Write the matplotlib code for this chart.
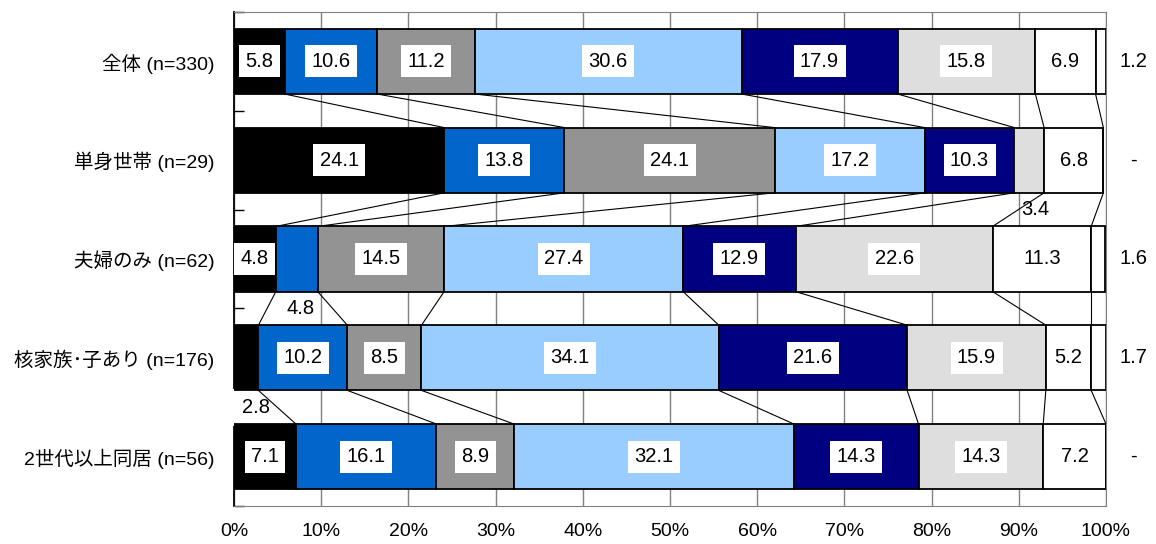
import numpy as np
import matplotlib
matplotlib.use("Agg")
import matplotlib.pyplot as plt

plt.rcParams['font.family'] = ['Liberation Sans', 'Noto Sans CJK JP', 'DejaVu Sans']

# 世帯構成別の回答割合（%）
categories = ['全体 (n=330)', '単身世帯 (n=29)', '夫婦のみ (n=62)',
              '核家族･子あり (n=176)', '2世代以上同居 (n=56)']
zentai = [5.8, 10.6, 11.2, 30.6, 17.9, 15.8, 6.9, 1.2]
tanshin = [24.1, 13.8, 24.1, 17.2, 10.3, 3.4, 6.8, 0.0]
fufu = [4.8, 4.8, 14.5, 27.4, 12.9, 22.6, 11.3, 1.6]
kakukazoku = [2.8, 10.2, 8.5, 34.1, 21.6, 15.9, 5.2, 1.7]
nisedai = [7.1, 16.1, 8.9, 32.1, 14.3, 14.3, 7.2, 0.0]
xticks = [0, 10, 20, 30, 40, 50, 60, 70, 80, 90, 100]

# 帯の下に数値を出す小さい区分 (行, 区分) と横方向のずらし量
below = {(1, 5): 0.7, (2, 1): 0.4, (3, 0): 1.1}

colors = ['#000000', '#0066cc', '#939393', '#99ccff', '#000080',
          '#dedede', '#ffffff', '#ffffff']

data = np.array([zentai, tanshin, fufu, kakukazoku, nisedai])
cum = np.hstack([np.zeros((len(data), 1)), np.cumsum(data, axis=1)])
h = 0.66

fig = plt.figure(figsize=(11.56, 5.44), dpi=100)
ax = fig.add_axes([234 / 1156, 38 / 544, 872 / 1156, 494 / 544])

for j in range(data.shape[1]):
    ax.barh(range(len(data)), data[:, j], left=cum[:, j], height=h,
            color=colors[j], edgecolor='black', linewidth=1.3, zorder=3)

# 区分の境界をつなぐ線
for i in range(len(data) - 1):
    for k in range(1, data.shape[1]):
        if cum[i, k] >= 99.95 and cum[i + 1, k] >= 99.95:
            continue
        ax.plot([cum[i, k], cum[i + 1, k]], [i + h / 2, i + 1 - h / 2],
                color='black', lw=0.8, zorder=2.9)

fs = 14.5
for i, row in enumerate(data):
    for j, v in enumerate(row[:-1]):
        c = cum[i, j] + v / 2
        if (i, j) in below:
            box = None
            if j == 0:
                box = dict(facecolor='white', edgecolor='none',
                           boxstyle='square,pad=0.45')
            ax.text(c + below[(i, j)], i + 0.5, f'{v:.1f}', ha='center',
                    va='center', fontsize=fs, zorder=2.8, bbox=box)
        else:
            ax.text(c, i, f'{v:.1f}', ha='center', va='center', fontsize=fs,
                    zorder=4, bbox=dict(facecolor='white', edgecolor='none',
                                        boxstyle='square,pad=0.32'))
    last = row[-1]
    ax.text(103.1, i, f'{last:.1f}' if last > 0 else '-', ha='center',
            va='center', fontsize=fs, clip_on=False)

ax.set_xlim(0, 100)
ax.set_ylim(len(data) - 0.5, -0.5)
ax.set_xticks(xticks)
ax.set_xticklabels([f'{t}%' for t in xticks], fontsize=14)
ax.set_yticks(range(len(data)))
ax.set_yticklabels(categories, fontsize=14)
ax.set_yticks(np.arange(-0.5, len(data)), minor=True)
ax.tick_params(axis='x', length=0, pad=12)
ax.tick_params(axis='y', which='major', length=0, pad=14)
ax.tick_params(axis='y', which='minor', length=7, direction='in',
               width=1, color='black')

ax.grid(axis='x', color='#808080', lw=1, zorder=0)
ax.set_axisbelow(True)
for side in ['top', 'right', 'bottom']:
    ax.spines[side].set_color('#808080')
ax.spines['left'].set_color('black')
ax.spines['left'].set_linewidth(1.3)

fig.savefig('out.png', dpi=100)
